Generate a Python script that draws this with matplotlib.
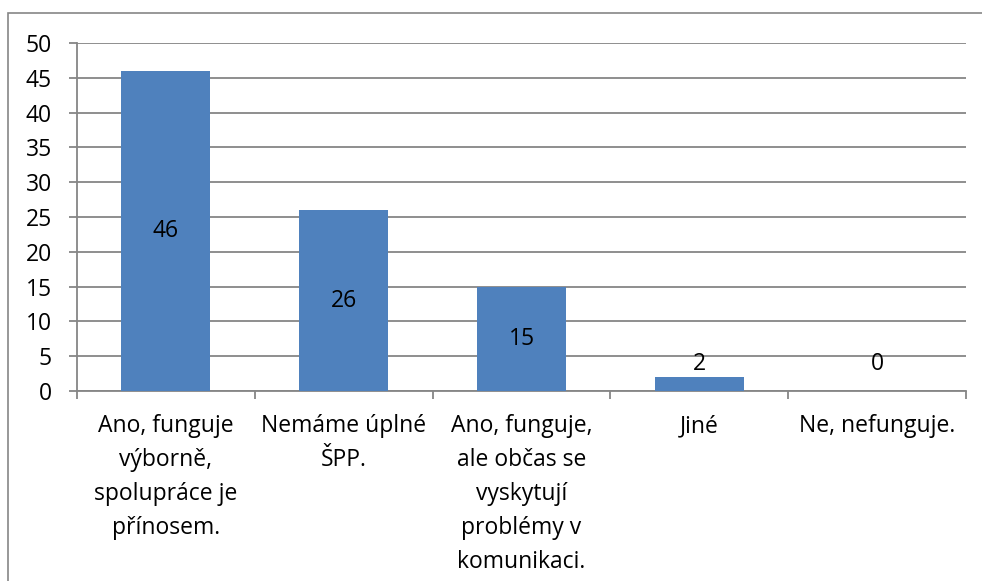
import matplotlib.pyplot as plt
import numpy as np
from matplotlib.patches import Rectangle

categories = [
    "Ano, funguje\nvýborně,\nspolupráce je\npřínosem.",
    "Nemáme úplné\nŠPP.",
    "Ano, funguje,\nale občas se\nvyskytují\nproblémy v\nkomunikaci.",
    "Jiné",
    "Ne, nefunguje.",
]
values = [46, 26, 15, 2, 0]
yticks = [0, 5, 10, 15, 20, 25, 30, 35, 40, 45, 50]

DPI = 100
GRAY = "#868686"
BLUE = "#4F81BD"
FONT = 16.5

plt.rcParams['font.family'] = ['Open Sans', 'DejaVu Sans']

fig = plt.figure(figsize=(982/DPI, 581/DPI), dpi=DPI)
ax = fig.add_axes([77/982, 190/581, 889/982, 348/581])

# outer chart frame (runs off the right and bottom edge)
fig.patches.append(Rectangle((8/982, -0.1), 1.2, (581-13)/581 + 0.1,
                             transform=fig.transFigure, fill=False,
                             edgecolor=GRAY, linewidth=1.2))

x = np.arange(len(values))
ax.bar(x, values, width=0.5, color=BLUE, zorder=3)

for xi, v in zip(x, values):
    ax.text(xi, max(v / 2, 3.9), str(v), ha='center', va='center',
            fontsize=FONT, color='black', zorder=4)

ax.set_xlim(-0.5, len(values) - 0.5)
ax.set_ylim(0, 50)
ax.set_yticks(yticks)
ax.yaxis.grid(True, color=GRAY, linewidth=1.3, zorder=0)
ax.set_axisbelow(True)

ax.set_xticks(x)
ax.set_xticklabels(categories, fontsize=FONT, linespacing=1.55)
ax.set_xticks(np.arange(len(values) + 1) - 0.5, minor=True)
ax.tick_params(axis='x', which='major', length=0, pad=16.5)
ax.tick_params(axis='x', which='minor', length=6, width=1.3, color=GRAY, direction='out')
ax.tick_params(axis='y', length=6, width=1.3, color=GRAY, direction='out',
               labelsize=FONT, pad=12)
for lbl in ax.get_xticklabels():
    lbl.set_verticalalignment('top')

for side in ['top', 'right']:
    ax.spines[side].set_visible(False)
for side in ['left', 'bottom']:
    ax.spines[side].set_color(GRAY)
    ax.spines[side].set_linewidth(1.3)

plt.savefig("out.png", dpi=DPI)
